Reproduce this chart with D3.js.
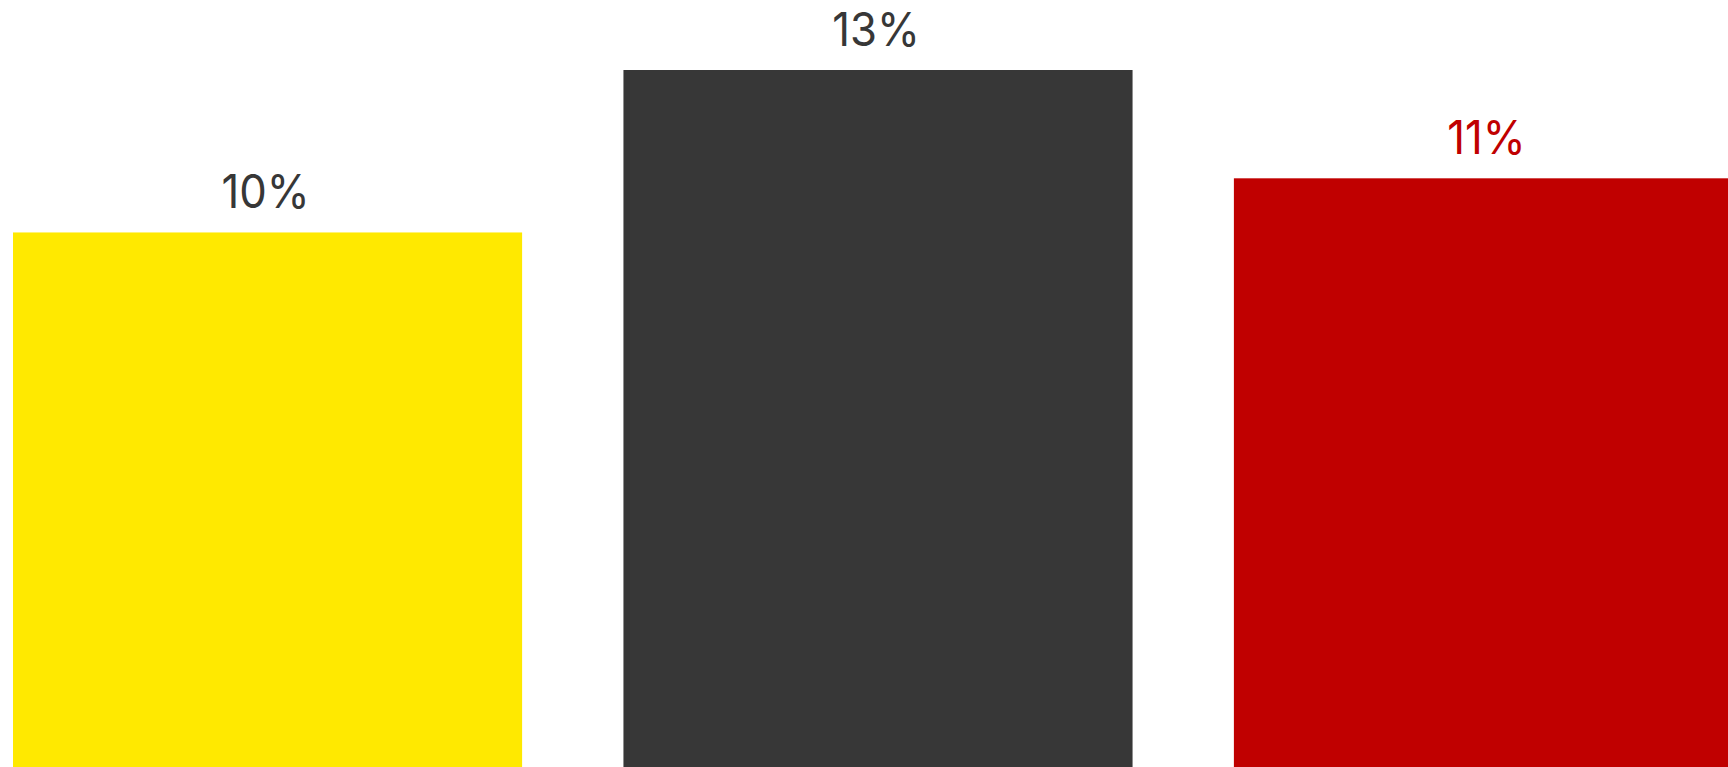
<!DOCTYPE html>
<html lang="en">
<head>
<meta charset="utf-8">
<title>Bars</title>
<style>
html, body { margin: 0; padding: 0; background: #fff; overflow: hidden; }
svg { display: block; }
.label { font-family: Inter, "Open Sans", sans-serif; font-size: 47px; font-weight: 400; text-anchor: middle; }
</style>
</head>
<body>
<svg width="1728" height="767"></svg>
<script src="https://d3js.org/d3.v7.min.js"></script>
<script>
var categories = ["Category A", "Category B", "Category C"];
var values = [10, 13, 11];
var barColors = ["#ffe900", "#373737", "#c00000"];
var labelColors = ["#373737", "#373737", "#c00000"];

var svg = d3.select("svg"),
    width = +svg.attr("width"),
    height = +svg.attr("height"),
    squeeze = 0.93; // labels are a narrow face, squash the fallback a bit

// chart runs a little past the window on the right and bottom
var x = d3.scaleBand()
    .domain(categories)
    .range([13, 1743])
    .paddingInner(0.166)
    .paddingOuter(0);

var y = d3.scaleLinear()
    .domain([0, 13])
    .range([774, 70]);

svg.append("g").selectAll("rect")
    .data(values)
    .enter().append("rect")
      .attr("x", function(d, i) { return x(categories[i]); })
      .attr("y", function(d) { return y(d); })
      .attr("width", x.bandwidth())
      .attr("height", function(d) { return y(0) - y(d); })
      .attr("fill", function(d, i) { return barColors[i]; });

svg.append("g").selectAll("text")
    .data(values)
    .enter().append("text")
      .attr("class", "label")
      .attr("x", function(d, i) { return x(categories[i]) + x.bandwidth() / 2 - 2; })
      .attr("y", function(d) { return y(d) - 24; })
      .attr("fill", function(d, i) { return labelColors[i]; })
      .text(function(d) { return d + "%"; })
      .each(function() {
        var len = this.getComputedTextLength();
        d3.select(this)
          .attr("textLength", len * squeeze)
          .attr("lengthAdjust", "spacingAndGlyphs");
      });
</script>
</body>
</html>
